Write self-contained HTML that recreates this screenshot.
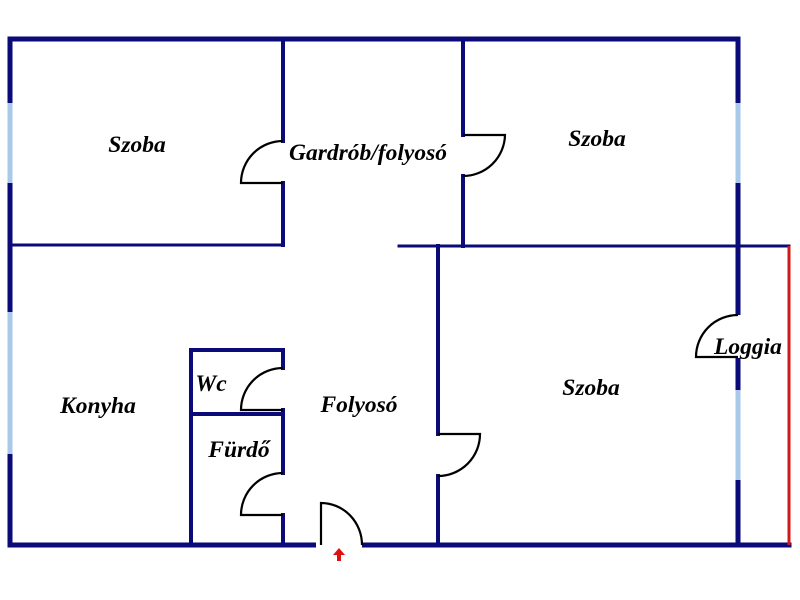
<!DOCTYPE html>
<html><head><meta charset="utf-8"><style>
html,body{margin:0;padding:0;background:#fff;width:800px;height:600px;overflow:hidden}
text{font-family:"Liberation Serif",serif;font-weight:bold;font-style:italic;font-size:23.5px;fill:#000;text-anchor:middle}
</style></head><body>
<svg width="800" height="600" viewBox="0 0 800 600" xmlns="http://www.w3.org/2000/svg">
<g stroke="#0a0a78" stroke-linecap="square" fill="none">
<line x1="10" y1="39" x2="738" y2="39" stroke-width="5"/>
<line x1="10" y1="39" x2="10" y2="545" stroke-width="5"/>
<line x1="10" y1="545" x2="789" y2="545" stroke-width="5"/>
<line x1="738" y1="39" x2="738" y2="545" stroke-width="5"/>
<line x1="10" y1="245" x2="283" y2="245" stroke-width="3"/>
<line x1="399" y1="246" x2="789" y2="246" stroke-width="3"/>
<line x1="283" y1="39" x2="283" y2="141" stroke-width="4"/>
<line x1="283" y1="183" x2="283" y2="245" stroke-width="4"/>
<line x1="463" y1="39" x2="463" y2="135" stroke-width="4"/>
<line x1="463" y1="176" x2="463" y2="246" stroke-width="4"/>
<line x1="438" y1="246" x2="438" y2="434" stroke-width="4"/>
<line x1="438" y1="476" x2="438" y2="545" stroke-width="4"/>
<line x1="191" y1="350" x2="191" y2="545" stroke-width="4"/>
<line x1="191" y1="350" x2="283" y2="350" stroke-width="4"/>
<line x1="191" y1="414" x2="283" y2="414" stroke-width="4"/>
<line x1="283" y1="350" x2="283" y2="368" stroke-width="4"/>
<line x1="283" y1="410" x2="283" y2="473" stroke-width="4"/>
<line x1="283" y1="515" x2="283" y2="545" stroke-width="4"/>
</g>
<g stroke="#a9c8ea" stroke-width="5">
<line x1="10" y1="103" x2="10" y2="183"/>
<line x1="10" y1="312" x2="10" y2="454"/>
<line x1="738" y1="103" x2="738" y2="183"/>
<line x1="738" y1="390" x2="738" y2="480"/>
</g>
<rect x="734" y="315" width="8" height="43" fill="#fff"/>
<rect x="316" y="540" width="46" height="10" fill="#fff"/>
<line x1="789" y1="246" x2="789" y2="545" stroke="#d01818" stroke-width="3"/>
<g stroke="#000" stroke-width="2.2" fill="none">
<path d="M283 141 A42 42 0 0 0 241 183 L283 183"/>
<path d="M463 135 L505 135 A42 42 0 0 1 463 176"/>
<path d="M438 434 L480 434 A42 42 0 0 1 438 476"/>
<path d="M283 368 A42 42 0 0 0 241 410 L283 410"/>
<path d="M283 473 A42 42 0 0 0 241 515 L283 515"/>
<path d="M738 315 A42 42 0 0 0 696 357 L738 357"/>
<path d="M321 545 L321 503 A41 42 0 0 1 362 545"/>
</g>
<path d="M339 548 L345 555 L341 555 L341 561 L337 561 L337 555 L333 555 Z" fill="#e01010"/>
<text x="137" y="152">Szoba</text>
<text x="368" y="160">Gardrób/folyosó</text>
<text x="597" y="146">Szoba</text>
<text x="98" y="413">Konyha</text>
<text x="211" y="391">Wc</text>
<text x="359" y="412">Folyosó</text>
<text x="239" y="457">Fürdő</text>
<text x="591" y="395">Szoba</text>
<text x="748" y="354">Loggia</text>
</svg>
</body></html>
